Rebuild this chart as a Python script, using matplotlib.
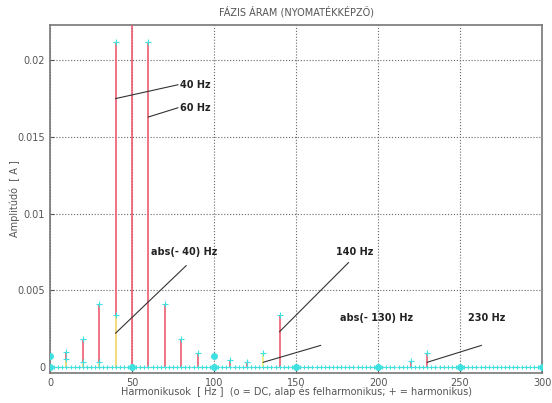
import numpy as np
import matplotlib
matplotlib.use("Agg")
import matplotlib.pyplot as plt

# --- ADATOK ---
# pozitív frekvenciás komponensek (piros szárak)
harm_f = [10, 20, 30, 40, 50, 60, 70, 80, 90, 110, 120, 140, 220, 230]
harm_a = [0.00095, 0.0018, 0.0041, 0.0212, 0.035, 0.0212, 0.0041, 0.0018,
          0.0009, 0.00045, 0.00035, 0.0034, 0.0004, 0.0009]
# negatív frekvenciás komponensek, abs(-f) (sárga szárak)
neg_f = [10, 20, 30, 40, 130]
neg_a = [0.0005, 0.0003, 0.0003, 0.0034, 0.0009]
# DC, alap és felharmonikusok ('o')
dc_f = [0, 0, 50, 100, 100, 150, 200, 250, 300]
dc_a = [0.0007, 0.0, 0.0, 0.0007, 0.0, 0.0, 0.0, 0.0, 0.0]
# közel nulla értékű spektrumvonalak
zero_f = np.arange(0, 301, 2.5)

annot_txt = ["40 Hz", "60 Hz", "abs(- 40) Hz", "140 Hz", "abs(- 130) Hz", "230 Hz"]
annot_pt = [(40, 0.0175), (60, 0.0163), (40, 0.0022), (140, 0.0023), (130, 0.0003), (230, 0.0003)]
annot_end = [(78, 0.0184), (78, 0.0169), (83, 0.0066), (182, 0.0068), (165, 0.0014), (263, 0.0014)]
annot_pos = [(79, 0.0184), (79, 0.0169), (82, 0.0075), (186, 0.0075), (199, 0.0032), (266, 0.0032)]
annot_ha = ["left", "left", "center", "center", "center", "center"]

red = "#ec5c70"
yellow = "#f2f07a"
cyan = "#3fe0e0"
gray = "#555555"

fig = plt.figure(figsize=(5.52, 4.03), dpi=100)
ax = fig.add_axes([0.0906, 0.0744, 0.8913, 0.8636])

ax.vlines(harm_f, 0, harm_a, colors=red, lw=1.2, zorder=3)
ax.vlines(neg_f, 0, neg_a, colors=yellow, lw=1.2, zorder=4)
ax.plot(harm_f, harm_a, "+", color=cyan, ms=4, mew=0.8, zorder=5)
ax.plot(neg_f, neg_a, "+", color=cyan, ms=4, mew=0.8, zorder=5)
ax.plot(zero_f, np.zeros_like(zero_f), "+:", color=cyan, ms=3.5, mew=0.8, lw=0.8, zorder=5)
ax.plot(dc_f, dc_a, "o", color=cyan, ms=4, zorder=6)

for txt, p, e, pos, ha in zip(annot_txt, annot_pt, annot_end, annot_pos, annot_ha):
    ax.plot([p[0], e[0]], [p[1], e[1]], color="#333333", lw=0.8, zorder=7)
    ax.text(pos[0], pos[1], txt, ha=ha, va="center", fontsize=7,
            fontweight="bold", color="#222222", zorder=8)

ax.set_xlim(0, 300)
ax.set_ylim(-0.0004, 0.0223)
ax.set_xticks([0, 50, 100, 150, 200, 250, 300])
ax.set_yticks([0, 0.005, 0.01, 0.015, 0.02])
ax.set_yticklabels(["0", "0.005", "0.01", "0.015", "0.02"])
ax.grid(True, ls=":", color="#666666", lw=0.8)
ax.tick_params(direction="in", labelsize=7, colors=gray, length=3)
for s in ax.spines.values():
    s.set_color("#777777")
    s.set_linewidth(1.2)

ax.set_title("FÁZIS ÁRAM (NYOMATÉKKÉPZŐ)", fontsize=7, color=gray, pad=7)
ax.set_xlabel("Harmonikusok  [ Hz ]  (o = DC, alap és felharmonikus; + = harmonikus)",
              fontsize=7, color=gray, labelpad=-1)
ax.set_ylabel("Amplitúdó  [ A ]", fontsize=7, color=gray)
ax.yaxis.set_label_coords(-0.062, 0.5)

fig.savefig("out.png", dpi=100, facecolor="white")
